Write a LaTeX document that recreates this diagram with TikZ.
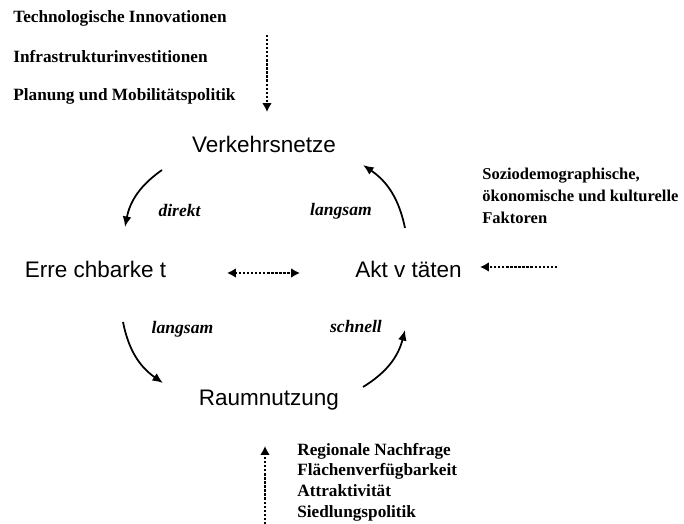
\documentclass[tikz,border=0pt]{standalone}
\usepackage{fontspec}
\setmainfont{Liberation Serif}
\setsansfont{Liberation Sans}
\usetikzlibrary{arrows.meta}

\tikzset{
  faktor/.style={font=\fontsize{9.8}{11.7}\selectfont\bfseries, anchor=base west, inner sep=0pt, align=left},
  system/.style={font=\sffamily\fontsize{12.8}{14}\selectfont, anchor=base, inner sep=0pt},
  tempo/.style={font=\fontsize{10}{12}\selectfont\bfseries\itshape, inner sep=0pt},
  wirkung/.style={-{Latex[length=6pt,width=5pt]}, line width=1pt, bend right=22},
  einfluss/.style={-{Latex[length=5pt,width=5.5pt]}, line width=1.3pt, densely dotted},
}

\begin{document}
\begin{tikzpicture}
  \useasboundingbox (0,0) rectangle (13.68,-10.48);
  %Hauptelemente
  \node[system] (VN) at (5.28,-3.06) {Verkehrsnetze};
  \node[system] (ER) at (1.91,-5.54) {Erre chbarke t};
  \node[system] (AK) at (8.17,-5.54) {Akt v täten};
  \node[system] (RN) at (5.38,-8.1) {Raumnutzung};

  %Einflussfaktoren
  \node[faktor] (tech) at (0.26,-0.46) {Technologische Innovationen};
  \node[faktor] (infra) at (0.26,-1.26) {Infrastrukturinvestitionen};
  \node[faktor] (plan) at (0.26,-2.0) {Planung und Mobilitätspolitik};
  \node[faktor, font=\fontsize{9.4}{12.5}\selectfont\bfseries] (sozio) at (9.64,-4.46) {Soziodemographische,\\ökonomische und kulturelle\\Faktoren};
  \node[faktor] (region) at (5.94,-10.34) {Regionale Nachfrage\\Flächenverfügbarkeit\\Attraktivität\\Siedlungspolitik};

  %Geschwindigkeiten
  \node[tempo] (direkt) at (3.59,-4.2) {direkt};
  \node[tempo] (langsamA) at (6.82,-4.22) {langsam};
  \node[tempo] (langsamB) at (3.65,-6.58) {langsam};
  \node[tempo] (schnell) at (7.12,-6.52) {schnell};

  %Enden der Pfeile
  \coordinate (vn1) at (3.24,-3.4);
  \coordinate (er1) at (2.5,-4.54);
  \coordinate (er2) at (2.46,-6.44);
  \coordinate (rn1) at (3.26,-7.66);
  \coordinate (rn2) at (7.26,-7.74);
  \coordinate (ak1) at (8.1,-6.6);
  \coordinate (ak2) at (8.1,-4.56);
  \coordinate (vn2) at (7.26,-3.3);
  \coordinate (oben) at (5.34,-0.7);
  \coordinate (obenZiel) at (5.34,-2.24);
  \coordinate (rechts) at (11.14,-5.34);
  \coordinate (rechtsZiel) at (9.6,-5.34);
  \coordinate (unten) at (5.3,-10.48);
  \coordinate (untenZiel) at (5.3,-8.92);
  \coordinate (mitteL) at (4.54,-5.46);
  \coordinate (mitteR) at (6.0,-5.46);

  %Kreislauf
  \draw[wirkung] (vn1) to (er1);
  \draw[wirkung] (er2) to (rn1);
  \draw[wirkung] (rn2) to (ak1);
  \draw[wirkung] (ak2) to (vn2);

  %gepunktete Pfeile
  \draw[einfluss] (oben) -- (obenZiel);
  \draw[einfluss] (rechts) -- (rechtsZiel);
  \draw[einfluss] (unten) -- (untenZiel);
  \draw[einfluss, {Latex[length=5pt,width=5.5pt]}-{Latex[length=5pt,width=5.5pt]}] (mitteL) -- (mitteR);
\end{tikzpicture}
\end{document}
